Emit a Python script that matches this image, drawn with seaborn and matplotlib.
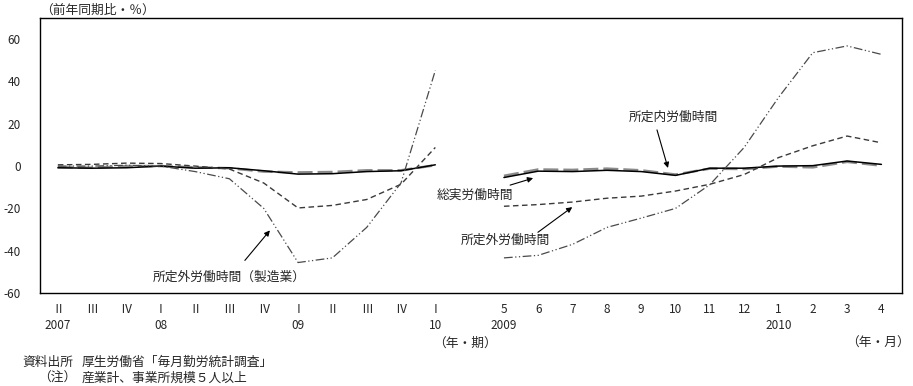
import pandas as pd
import matplotlib
matplotlib.use("Agg")
import matplotlib.pyplot as plt
import seaborn as sns

# 四半期（2007年II期～2010年I期）
quarter_labels = ["Ⅱ", "Ⅲ", "Ⅳ", "Ⅰ", "Ⅱ", "Ⅲ", "Ⅳ", "Ⅰ", "Ⅱ", "Ⅲ", "Ⅳ", "Ⅰ"]
quarter_years = ["2007", "", "", "08", "", "", "", "09", "", "", "", "10"]
# 月次（2009年5月～2010年4月）
month_labels = ["5", "6", "7", "8", "9", "10", "11", "12", "1", "2", "3", "4"]
month_years = ["2009", "", "", "", "", "", "", "", "2010", "", "", ""]

# 前年同期比（％）
total_q = [-0.8, -1.0, -0.8, 0.0, -1.0, -0.8, -2.2, -3.8, -3.6, -2.6, -2.2, 0.6]
scheduled_q = [-0.5, -0.8, 0.0, 0.0, -0.6, -1.0, -2.6, -3.0, -2.8, -2.0, -2.0, 0.4]
overtime_q = [0.6, 0.8, 1.4, 1.2, 0.0, -1.4, -8.0, -19.8, -18.6, -15.8, -8.6, 8.8]
manuf_q = [0.0, 0.0, 0.4, 0.0, -2.6, -6.0, -20.0, -45.6, -43.4, -29.0, -8.0, 45.2]

total_m = [-5.4, -2.4, -2.6, -2.0, -2.6, -4.4, -1.0, -1.0, 0.0, 0.2, 2.4, 0.8]
scheduled_m = [-4.6, -1.6, -1.8, -1.2, -2.0, -4.0, -1.2, -1.4, -0.2, -0.6, 2.0, 0.2]
overtime_m = [-19.0, -18.2, -17.0, -15.2, -14.2, -11.8, -8.6, -4.0, 4.0, 9.6, 14.2, 11.0]
manuf_m = [-43.4, -42.2, -37.0, -29.0, -24.6, -20.0, -8.8, 8.8, 32.4, 53.6, 56.8, 52.8]

series_names = ["所定内労働時間", "総実労働時間", "所定外労働時間", "所定外労働時間（製造業）"]
styles = {
    "所定内労働時間": dict(color="#8a8a8a", lw=1.8, ls=(0, (6, 2))),
    "総実労働時間": dict(color="black", lw=1.1, ls="-"),
    "所定外労働時間": dict(color="#3a3a3a", lw=1.0, ls=(0, (4, 2.5))),
    "所定外労働時間（製造業）": dict(color="#4a4a4a", lw=0.9, ls=(0, (7, 2, 1, 2, 1, 2))),
}

q_pos = list(range(12))
m_pos = list(range(13, 25))

rows = []
for name, qv, mv in [
    ("所定内労働時間", scheduled_q, scheduled_m),
    ("総実労働時間", total_q, total_m),
    ("所定外労働時間", overtime_q, overtime_m),
    ("所定外労働時間（製造業）", manuf_q, manuf_m),
]:
    for p, v in zip(q_pos, qv):
        rows.append({"series": name, "segment": "q", "pos": p, "value": v})
    for p, v in zip(m_pos, mv):
        rows.append({"series": name, "segment": "m", "pos": p, "value": v})
df = pd.DataFrame(rows)

sns.set_theme(style="white")
plt.rcParams["font.family"] = ["Noto Sans CJK JP", "DejaVu Sans"]

W, H = 913, 386
FS = 9.2
fig = plt.figure(figsize=(W / 100, H / 100), dpi=100)
ax = fig.add_axes([40 / W, 1 - 293 / H, (902 - 40) / W, (293 - 18) / H])

for name in series_names:
    st = styles[name]
    for seg in ["q", "m"]:
        sub = df[(df["series"] == name) & (df["segment"] == seg)]
        sns.lineplot(data=sub, x="pos", y="value", ax=ax, color=st["color"],
                     linewidth=st["lw"], linestyle=st["ls"], legend=False,
                     estimator=None, sort=False)

ax.set_xlim(-0.52, 24.6)
ax.set_ylim(-60, 70)
ax.set_yticks([60, 40, 20, 0, -20, -40, -60])
ax.set_yticklabels(["60", "40", "20", "0", "-20", "-40", "-60"], fontsize=8.5)
ax.set_xticks(q_pos + m_pos)
xlabels = [f"{a}\n{b}" if b else a for a, b in zip(quarter_labels, quarter_years)]
xlabels += [f"{a}\n{b}" if b else a for a, b in zip(month_labels, month_years)]
ax.set_xticklabels(xlabels, fontsize=8.5, linespacing=1.3)
ax.tick_params(axis="both", length=0)
ax.tick_params(axis="y", pad=14)
ax.tick_params(axis="x", pad=7)
ax.set_xlabel("")
ax.set_ylabel("")
for sp in ax.spines.values():
    sp.set_visible(True)
    sp.set_color("black")
    sp.set_linewidth(1.0)

# 注記と矢印
arrow = dict(arrowstyle="-|>", color="black", lw=0.8, mutation_scale=8,
             shrinkA=0, shrinkB=0)
notes = [
    ("所定外労働時間（製造業）", (5.0, -52.7), "center", (5.45, -44.6), (6.18, -30.4)),
    ("所定内労働時間", (17.93, 23.2), "center", (17.46, 17.1), (17.78, -0.9)),
    ("総実労働時間", (11.05, -13.8), "left", (13.18, -9.0), (13.85, -5.7)),
    ("所定外労働時間", (11.75, -35.1), "left", (13.99, -31.3), (14.99, -19.4)),
]
for text, tpos, ha, tail, tip in notes:
    ax.text(tpos[0], tpos[1], text, ha=ha, va="center", fontsize=FS)
    ax.annotate("", xy=tip, xytext=tail, arrowprops=arrow)

fig.text(40 / W, 1 - 10 / H, "（前年同期比・％）", ha="left", va="center", fontsize=FS)
fig.text(433 / W, 1 - 343 / H, "（年・期）", ha="left", va="center", fontsize=FS)
fig.text(910 / W, 1 - 343 / H, "（年・月）", ha="right", va="center", fontsize=FS)
fig.text(22 / W, 1 - 362 / H, "資料出所", ha="left", va="center", fontsize=FS)
fig.text(82 / W, 1 - 362 / H, "厚生労働省「毎月勤労統計調査」", ha="left", va="center", fontsize=FS)
fig.text(38 / W, 1 - 378 / H, "（注）", ha="left", va="center", fontsize=FS)
fig.text(82 / W, 1 - 378 / H, "産業計、事業所規模５人以上", ha="left", va="center", fontsize=FS)

fig.savefig("out.png", dpi=100, facecolor="white")
